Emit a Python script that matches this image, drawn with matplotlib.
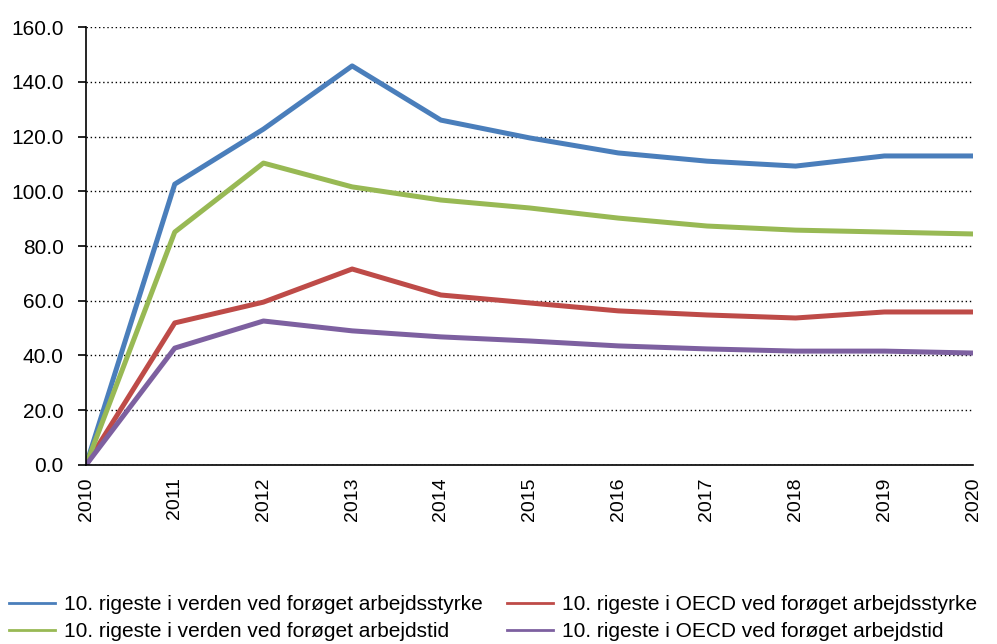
import matplotlib.pyplot as plt
from matplotlib.lines import Line2D
from matplotlib.ticker import FormatStrFormatter

plt.rcParams['font.family'] = ['Liberation Sans', 'DejaVu Sans']

years = [2010, 2011, 2012, 2013, 2014, 2015, 2016, 2017, 2018, 2019, 2020]
verden_styrke = [0, 102.6, 122.7, 145.8, 126.0, 119.5, 114.0, 111.0, 109.2, 112.9, 112.9]
oecd_styrke = [0, 51.9, 59.5, 71.6, 62.1, 59.2, 56.3, 54.8, 53.7, 55.9, 55.9]
verden_tid = [0, 85.1, 110.3, 101.6, 96.8, 93.9, 90.2, 87.3, 85.8, 85.1, 84.4]
oecd_tid = [0, 42.7, 52.6, 49.0, 46.8, 45.3, 43.5, 42.4, 41.6, 41.6, 40.9]

labels = ["10. rigeste i verden ved forøget arbejdsstyrke",
          "10. rigeste i OECD ved forøget arbejdsstyrke",
          "10. rigeste i verden ved forøget arbejdstid",
          "10. rigeste i OECD ved forøget arbejdstid"]
farver = ["#4A7EBB", "#BE4B48", "#98B954", "#7D60A0"]

fig = plt.figure(figsize=(9.97, 6.44), dpi=100)
ax = fig.add_axes([0.0863, 0.278, 0.8897, 0.680])

serier = [verden_styrke, oecd_styrke, verden_tid, oecd_tid]
for s, c, l in zip(serier, farver, labels):
    ax.plot(years, s, color=c, lw=3.6, label=l)

ax.set_xlim(2010, 2020)
ax.set_ylim(0, 160)
ax.set_yticks(range(0, 161, 20))
ax.yaxis.set_major_formatter(FormatStrFormatter('%.1f'))
ax.set_xticks(years)
ax.set_xticklabels([str(y) for y in years], rotation=90)
ax.set_xticks(years[::2], minor=True)
ax.tick_params(axis='x', which='major', length=0, pad=9, labelsize=14)
ax.tick_params(axis='x', which='minor', length=5, width=1.2)
ax.yaxis.grid(True, color='black', linestyle=(0, (1, 2)), lw=1)
ax.set_axisbelow(True)
ax.spines['top'].set_visible(False)
ax.spines['right'].set_visible(False)
ax.spines['left'].set_linewidth(1.2)
ax.spines['bottom'].set_linewidth(1.2)
ax.tick_params(axis='y', length=6, width=1.2, pad=10, labelsize=15)

# legenden læses række for række
order = [0, 2, 1, 3]
handles = [Line2D([], [], color=farver[i], lw=2) for i in order]
fig.legend(handles, [labels[i] for i in order],
           ncol=2, loc='lower left', bbox_to_anchor=(-0.01, -0.025),
           frameon=False, fontsize=15, handlelength=2.2, columnspacing=1.15,
           handletextpad=0.45, labelspacing=0.4)

fig.savefig("out.png", dpi=100)
